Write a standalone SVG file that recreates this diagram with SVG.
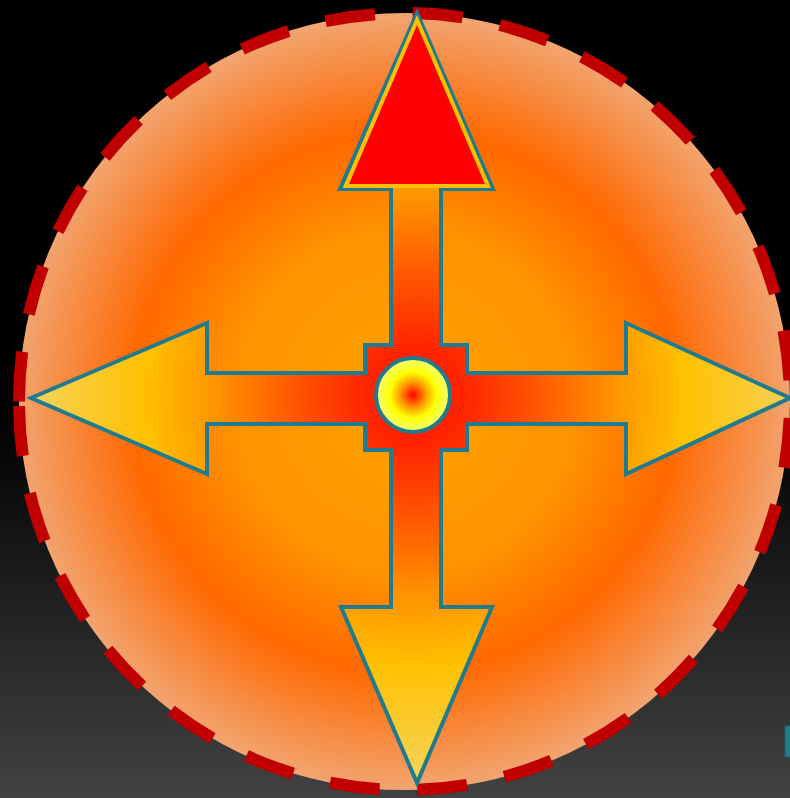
<svg xmlns="http://www.w3.org/2000/svg" width="790" height="798" viewBox="0 0 790 798">
  <defs>
    <linearGradient id="bg" x1="0" y1="0" x2="0" y2="1">
      <stop offset="0" stop-color="#000000"/>
      <stop offset="0.52" stop-color="#000000"/>
      <stop offset="1" stop-color="#424242"/>
    </linearGradient>
    <radialGradient id="disc" cx="404.5" cy="401.5" r="387" gradientUnits="userSpaceOnUse">
      <stop offset="0" stop-color="#FFA400"/>
      <stop offset="0.45" stop-color="#FF9200"/>
      <stop offset="0.7" stop-color="#FF6800"/>
      <stop offset="1" stop-color="#F2A470"/>
    </radialGradient>
    <radialGradient id="cross" cx="415" cy="397" r="385" gradientUnits="userSpaceOnUse">
      <stop offset="0" stop-color="#FF1000"/>
      <stop offset="0.13" stop-color="#FF2500"/>
      <stop offset="0.31" stop-color="#FF5500"/>
      <stop offset="0.52" stop-color="#FF9400"/>
      <stop offset="0.70" stop-color="#FFC000"/>
      <stop offset="1" stop-color="#F5D45C"/>
    </radialGradient>
    <radialGradient id="hub" cx="0.5" cy="0.5" r="0.5">
      <stop offset="0" stop-color="#FF0000"/>
      <stop offset="0.32" stop-color="#FF9000"/>
      <stop offset="0.62" stop-color="#FFFF00"/>
      <stop offset="1" stop-color="#F4FF78"/>
    </radialGradient>
  </defs>
  <style>
    .outline { stroke: #1F7B8D; stroke-width: 4; stroke-linejoin: miter; }
  </style>
  <rect x="0" y="0" width="790" height="798" fill="url(#bg)"/>
  <g id="disc-node">
    <ellipse cx="404.5" cy="401.5" rx="385.5" ry="388.5" fill="url(#disc)"/>
    <path d="M 19,401.5 A 385.5 388.5 0 1 1 790,401.5 A 385.5 388.5 0 1 1 19,401.5" fill="none" stroke="#C00000" stroke-width="12" stroke-dasharray="50 38"/>
  </g>
  <g id="cross-node">
    <path class="outline" fill="url(#cross)" d="M 417,13 L 493,189 L 441,189 L 441,345 L 467,345 L 467,373 L 626,373 L 626,323 L 790,398 L 626,474 L 626,424 L 467,424 L 467,450 L 441,450 L 441,607 L 492,607 L 417,783 L 341,607 L 391,607 L 391,450 L 365,450 L 365,424 L 207,424 L 207,474 L 31,398 L 207,323 L 207,373 L 365,373 L 365,345 L 391,345 L 391,189 L 340,189 Z"/>
  </g>
  <g id="top-head">
    <polygon points="417,20 488,186 346,186" fill="#FF0000" stroke="#FFC000" stroke-width="4" stroke-linejoin="miter"/>
  </g>
  <g id="hub-node">
    <circle cx="413" cy="395" r="37" fill="url(#hub)" class="outline"/>
  </g>
  <g id="corner-mark">
    <rect x="785" y="726" width="8" height="31" fill="#217E8F" stroke="#1A5F6C" stroke-width="1"/>
  </g>
</svg>
